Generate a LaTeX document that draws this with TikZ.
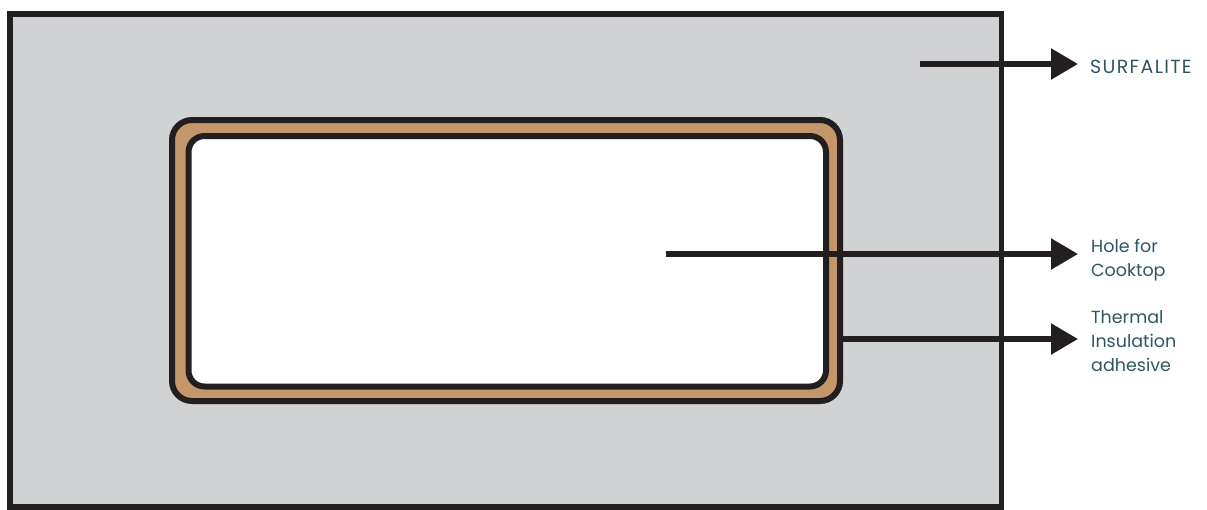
\documentclass[tikz,border=0pt]{standalone}
\usepackage{fontspec}
\setmainfont{Poppins}
\usetikzlibrary{positioning, arrows.meta}

\definecolor{slabgray}{RGB}{209,210,212}
\definecolor{gluebrown}{RGB}{196,151,106}
\definecolor{inkdark}{RGB}{35,31,32}
\definecolor{labelteal}{RGB}{47,85,99}

\begin{document}
\begin{tikzpicture}[
    x=1pt, y=-1pt,
    slab/.style={rectangle, draw=inkdark, fill=slabgray, line width=5.5pt},
    glue/.style={rectangle, draw=inkdark, fill=gluebrown, line width=6pt, rounded corners=20pt},
    hole/.style={rectangle, draw=inkdark, fill=white, line width=6pt, rounded corners=16pt},
    label/.style={inner sep=0pt, align=left, text=labelteal, font=\fontsize{17.5}{24}\selectfont},
    arrow/.style={-{Triangle[length=27pt, width=30pt]}, draw=inkdark, line width=5.5pt, shorten >=13pt},
]
\useasboundingbox (0,0) rectangle (1207,509);

%% NODES
    % worktop and cut-out
    \node[slab, minimum width=991.5pt, minimum height=493pt] (worktop) at (505.75,260.5) {};
    \node[glue, minimum width=668pt, minimum height=281pt] (adhesive) at (506,260.5) {};
    \node[hole, minimum width=637.5pt, minimum height=250.5pt] (cutout) at (507.25,261.25) {};

    % labels (base = last line)
    \node[label, anchor=base west, font=\fontsize{19}{24}\selectfont] (surf_label) at (1090,73) {\addfontfeature{LetterSpace=7}SURFALITE};
    \node[label, anchor=base west] (hole_label) at (1091,276) {Hole for\\Cooktop};
    \node[label, anchor=base west] (glue_label) at (1091,371) {Thermal\\Insulation\\adhesive};

    % arrow starts
    \coordinate (surf_pt) at (920,64);
    \coordinate (hole_pt) at (666,254);
    \coordinate (glue_pt) at (837,339);

%% ARROWS
    \draw[arrow, shorten >=12pt] (surf_pt) -- (surf_pt -| surf_label.west);
    \draw[arrow] (hole_pt) -- (hole_pt -| hole_label.west);
    \draw[arrow] (glue_pt) -- (glue_pt -| glue_label.west);

\end{tikzpicture}
\end{document}
